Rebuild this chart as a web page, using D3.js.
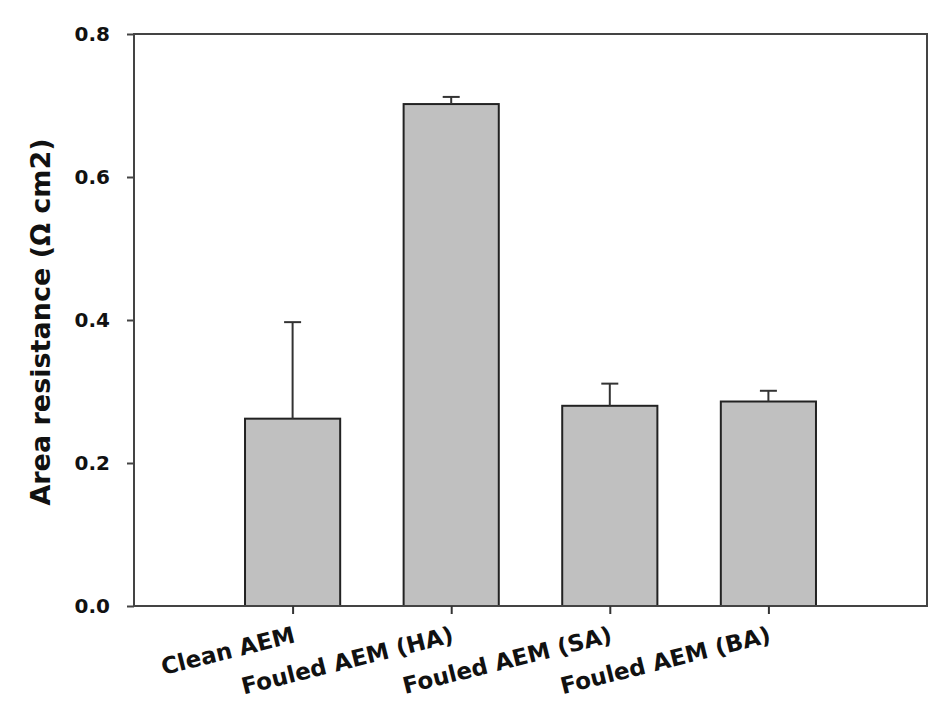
<!DOCTYPE html>
<html>
<head>
<meta charset="utf-8">
<script src="https://cdn.jsdelivr.net/npm/d3@7"></script>
<style>
  html, body { margin: 0; padding: 0; background: #fff; }
  svg { display: block; }
</style>
</head>
<body>
<svg id="chart" width="945" height="718"></svg>
<script>
const categories = ["Clean AEM", "Fouled AEM (HA)", "Fouled AEM (SA)", "Fouled AEM (BA)"];
const values = [0.262, 0.702, 0.280, 0.286];
const errors = [0.135, 0.010, 0.031, 0.015];
const yTicks = [0.0, 0.2, 0.4, 0.6, 0.8];
const yLabel = "Area resistance (\u03A9 cm2)";

(function () {
const svg = d3.select("#chart");
const pL = 134, pR = 927, pT = 34, pB = 606;
const font = "'DejaVu Sans', sans-serif";

const x = d3.scalePoint().domain(categories).range([pL, pR]).padding(1);
const step = x.step();
const barW = step * 0.6;
const y = d3.scaleLinear().domain([0, 0.8]).range([pB, pT]);

// bars
const g = svg.append("g");
g.selectAll("rect.bar").data(categories).join("rect")
  .attr("class", "bar")
  .attr("x", d => x(d) - barW / 2)
  .attr("y", (d, i) => y(values[i]))
  .attr("width", barW)
  .attr("height", (d, i) => y(0) - y(values[i]))
  .attr("fill", "#c0c0c0")
  .attr("stroke", "#222")
  .attr("stroke-width", 2);

// error bars (upper only)
const capW = 17;
g.selectAll("line.err").data(categories).join("line")
  .attr("class", "err")
  .attr("x1", d => x(d)).attr("x2", d => x(d))
  .attr("y1", (d, i) => y(values[i]))
  .attr("y2", (d, i) => y(values[i] + errors[i]))
  .attr("stroke", "#333").attr("stroke-width", 2);
g.selectAll("line.cap").data(categories).join("line")
  .attr("class", "cap")
  .attr("x1", d => x(d) - capW / 2).attr("x2", d => x(d) + capW / 2)
  .attr("y1", (d, i) => y(values[i] + errors[i]))
  .attr("y2", (d, i) => y(values[i] + errors[i]))
  .attr("stroke", "#333").attr("stroke-width", 2);

// frame
svg.append("rect")
  .attr("x", pL).attr("y", pT)
  .attr("width", pR - pL).attr("height", pB - pT)
  .attr("fill", "none").attr("stroke", "#444").attr("stroke-width", 2);

// y axis
const yAxis = svg.append("g").attr("transform", `translate(${pL},0)`)
  .call(d3.axisLeft(y).tickValues(yTicks).tickFormat(d3.format(".1f")).tickSize(7).tickPadding(17));
yAxis.select(".domain").remove();
yAxis.selectAll(".tick line").attr("stroke", "#444").attr("stroke-width", 2);
yAxis.selectAll(".tick text")
  .attr("font-family", font).attr("font-weight", "bold").attr("font-size", 20).attr("fill", "#111");

// x axis
const xAxis = svg.append("g").attr("transform", `translate(0,${pB})`)
  .call(d3.axisBottom(x).tickSize(8).tickFormat(d => d));
xAxis.select(".domain").remove();
xAxis.selectAll(".tick line").attr("stroke", "#333").attr("stroke-width", 2);
xAxis.selectAll(".tick text")
  .attr("font-family", font).attr("font-weight", "bold").attr("font-size", 23).attr("fill", "#111")
  .attr("text-anchor", "end")
  .attr("dy", 0)
  .attr("y", 0)
  .attr("transform", "translate(3,36) rotate(-14)");

// y label
svg.append("text")
  .attr("transform", `translate(50,${(pT + pB) / 2 + 2}) rotate(-90)`)
  .attr("text-anchor", "middle")
  .attr("font-family", font).attr("font-weight", "bold").attr("font-size", 27).attr("fill", "#111")
  .text(yLabel);
})();
</script>
</body>
</html>
